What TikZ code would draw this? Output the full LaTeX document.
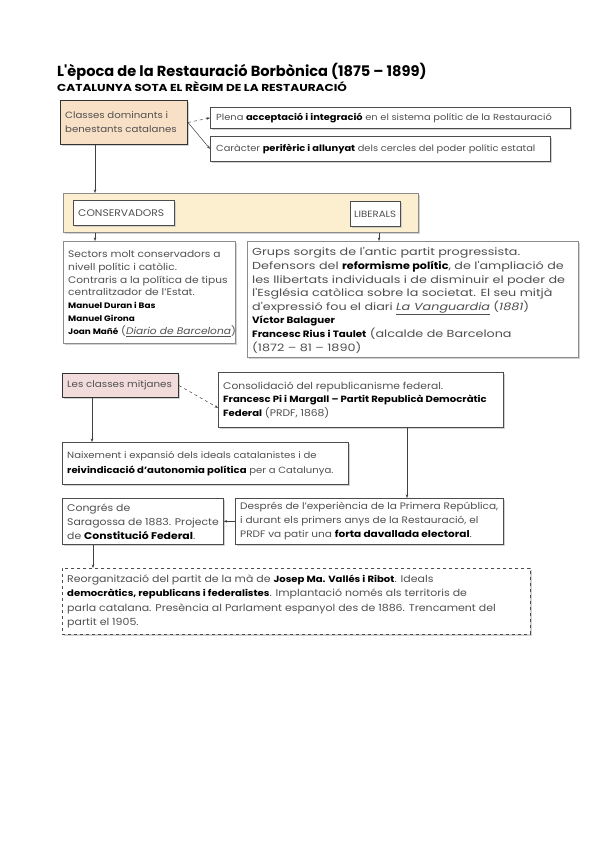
\documentclass[tikz,border=0pt]{standalone}
\usepackage{fontspec}
\setmainfont{Poppins}[FakeStretch=1.12]
\newfontfamily\titlefont{Poppins}
\newfontfamily\subfont{Poppins}[FakeStretch=1.2]
\newfontfamily\grupsfont{Poppins}[FakeStretch=1.25]
\usetikzlibrary{shadows,arrows.meta}
\definecolor{tanfill}{HTML}{F8E0C6}
\definecolor{bandfill}{HTML}{FCEFCF}
\definecolor{pinkfill}{HTML}{F2DCDB}
\definecolor{bodytxt}{HTML}{505050}
\newcommand{\B}[1]{\textbf{\color{black}#1}}
\newcommand{\fs}[2]{\fontsize{#1}{#2}\selectfont}
\newcommand{\Bn}[2]{{\rmfamily\fs{#1}{12}\B{#2}}}
\begin{document}
\begin{tikzpicture}[x=1pt,y=-1pt,
  box/.style={draw=black!70, line width=0.7pt, fill=white, anchor=north west,
    inner sep=0pt, minimum width=#1pt,
    drop shadow={shadow xshift=1.3pt, shadow yshift=-1.3pt, fill=black!22, opacity=0.8}},
  txt/.style={anchor=west, align=left, inner sep=0pt, text=bodytxt},
  conn/.style={line width=0.5pt, draw=black!75, -{Stealth[length=3.5pt,width=2.6pt]}}]
\useasboundingbox (0,0) rectangle (599,848);
\fill[white] (0,0) rectangle (599,848);
% titles
\node[anchor=base west, inner sep=0pt, font=\titlefont\fs{14.6}{16}\bfseries] (title) at (57,77) {L'època de la Restauració Borbònica (1875 – 1899)};
\node[anchor=base west, inner sep=0pt, font=\subfont\fs{10.1}{12}\bfseries] (subtitle) at (57,92) {CATALUNYA SOTA EL RÈGIM DE LA RESTAURACIÓ};
% top group
\node[box=127, fill=tanfill, draw=black!80, line width=1pt, minimum height=44pt] (A) at (60,100) {};
\node[txt, font=\fs{9.1}{14}] (At) at ([xshift=5pt]A.west) {Classes dominants i\\benestants catalanes};
\node[box=360, minimum height=21pt] (B) at (210,107) {};
\node[txt, font=\fs{8.8}{12}] (Bt) at ([xshift=6pt]B.west) {Plena \B{acceptació i integració} en el sistema polític de la Restauració};
\node[box=340, minimum height=25pt] (C) at (210,136) {};
\node[txt, font=\fs{8.8}{12}] (Ct) at ([xshift=6pt]C.west) {Caràcter \B{perifèric i allunyat} dels cercles del poder polític estatal};
\draw[conn, dashed] (A.east) -- (B.west);
\draw[conn] (A.east) -- (C.west);
% band
\node[box=355, fill=bandfill, draw=black!45, minimum height=39pt] (band) at (63,193) {};
\node[box=101, minimum height=25pt] (cons) at (73,200) {};
\node[txt, font=\fs{9.6}{12}] (const) at ([xshift=5pt]cons.west) {CONSERVADORS};
\node[box=50, minimum height=25pt] (lib) at (350,201) {};
\node[txt, font=\fs{9.1}{12}] (libt) at ([xshift=4pt]lib.west) {LIBERALS};
\draw[conn] ([xshift=35pt]A.south west) -- ([xshift=32pt]band.north west);
% conservative / liberal detail
\node[box=172, draw=black!45, minimum height=102pt] (sect) at (63,241) {};
\node[txt, font=\fs{9.5}{12.8}] (sectt) at ([xshift=5pt,yshift=-1pt]sect.west) {Sectors molt conservadors a\\nivell polític i catòlic.\\Contraris a la política de tipus\\centralitzador de l'Estat.\\\Bn{7.9}{Manuel Duran i Bas}\\\Bn{7.9}{Manuel Girona}\\\Bn{7.9}{Joan Mañé} (\underline{\textit{Diario de Barcelona}})};
\node[box=331, draw=black!45, minimum height=116pt] (grups) at (247,241) {};
\node[txt, font=\grupsfont\fs{10.2}{13.6}] (grupst) at ([xshift=5pt,yshift=-1pt]grups.west) {Grups sorgits de l'antic partit progressista.\\Defensors del \Bn{10}{reformisme polític}, de l'ampliació de\\les llibertats individuals i de disminuir el poder de\\l'Església catòlica sobre la societat. El seu mitjà\\d'expressió fou el diari \underline{\textit{La Vanguardia}} (\textit{1881})\\\Bn{9.2}{Víctor Balaguer}\\\Bn{9.2}{Francesc Rius i Taulet} (alcalde de Barcelona\\(1872 – 81 – 1890)};
\draw[conn] ([xshift=32pt]band.south west) -- ([xshift=32pt]sect.north west);
\draw[conn] ([xshift=316pt]band.south west) -- ([xshift=132pt]grups.north west);
% middle classes
\node[box=116, fill=pinkfill, draw=black!80, line width=1pt, minimum height=24pt] (mit) at (62,373) {};
\node[txt, font=\fs{9.2}{12}] (mitt) at ([xshift=5pt]mit.west) {Les classes mitjanes};
\node[box=285, minimum height=55pt] (consol) at (218,372) {};
\node[txt, font=\fs{9.6}{13.6}] (consolt) at ([xshift=5pt]consol.west) {Consolidació del republicanisme federal.\\\Bn{9.0}{Francesc Pi i Margall – Partit Republicà Democràtic}\\\Bn{9.0}{Federal} (PRDF, 1868)};
\node[box=286, minimum height=42pt] (naix) at (62,442) {};
\node[txt, font=\fs{9.0}{15}] (naixt) at ([xshift=5pt]naix.west) {Naixement i expansió dels ideals catalanistes i de\\\B{reivindicació d'autonomia política} per a Catalunya.};
\node[box=161, minimum height=46pt] (cong) at (62,498) {};
\node[txt, font=\fs{9.7}{14}] (congt) at ([xshift=5pt]cong.west) {Congrés de\\Saragossa de 1883. Projecte\\de \B{Constitució Federal}.};
\node[box=268, minimum height=46pt] (desp) at (235,498) {};
\node[txt, font=\fs{9.4}{14}] (despt) at ([xshift=5pt]desp.west) {Després de l'experiència de la Primera República,\\i durant els primers anys de la Restauració, el\\PRDF va patir una \B{forta davallada electoral}.};
\node[box=468, dashed, minimum height=66pt] (reorg) at (62,568) {};
\node[txt, font=\fs{9.8}{14.3}] (reorgt) at ([xshift=5pt]reorg.west) {Reorganització del partit de la mà de {\fs{9.0}{14.3}\B{Josep Ma. Vallés i Ribot}}. Ideals\\{\fs{9.0}{14.3}\B{democràtics, republicans i federalistes}}. Implantació només als territoris de\\parla catalana. Presència al Parlament espanyol des de 1886. Trencament del\\partit el 1905.};
\draw[conn, dashed] (mit.east) -- ([yshift=-8pt]consol.west);
\draw[conn] ([xshift=30pt]mit.south west) -- ([xshift=30pt]naix.north west);
\draw[conn] ([xshift=189pt]consol.south west) -- ([xshift=172pt]desp.north west);
\draw[conn] (desp.west) -- (cong.east);
\draw[conn] ([xshift=31pt]cong.south west) -- ([xshift=31pt]reorg.north west);
\end{tikzpicture}
\end{document}
